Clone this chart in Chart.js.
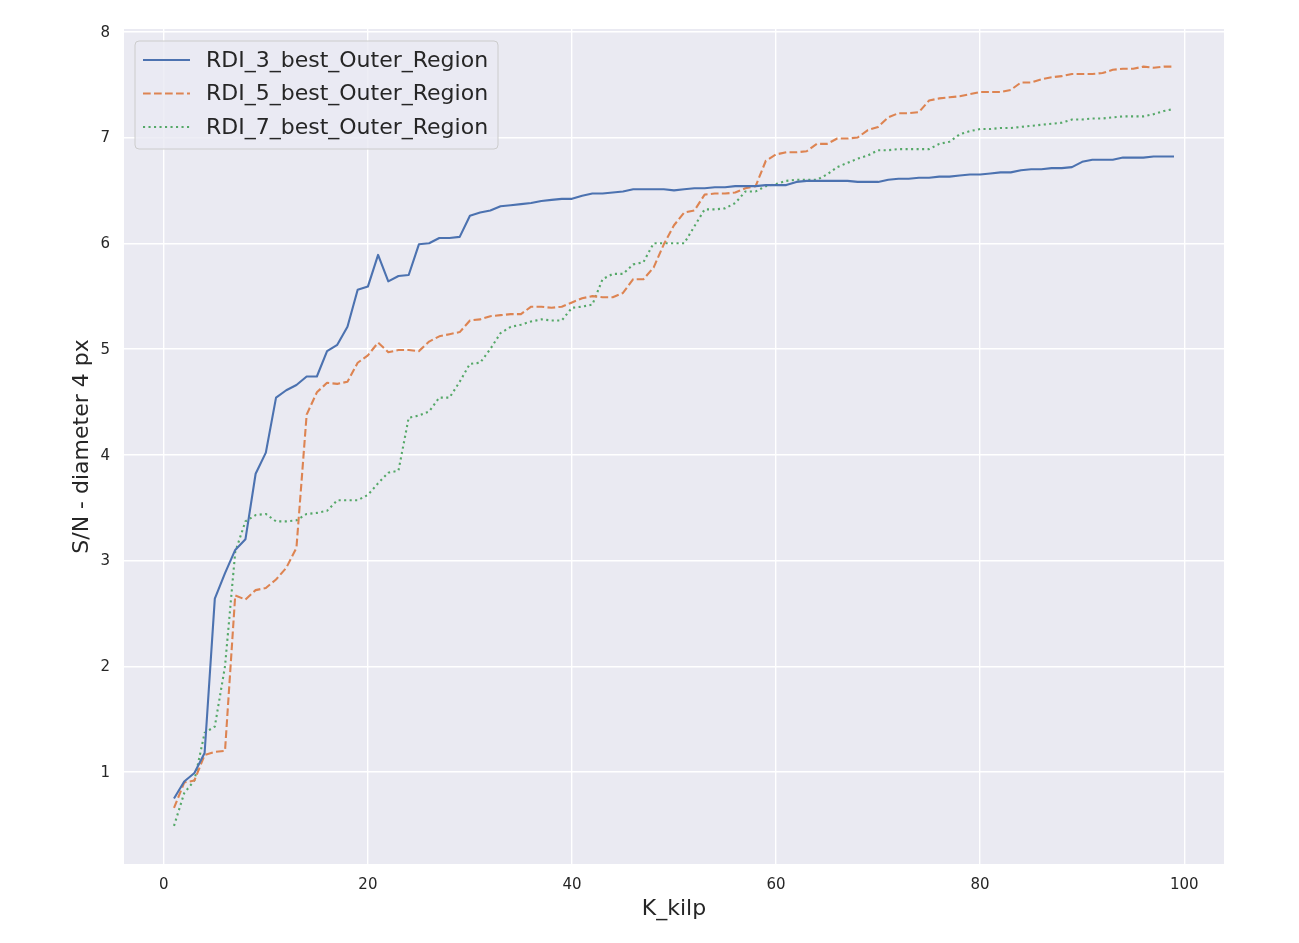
<!DOCTYPE html>
<html>
<head>
<meta charset="utf-8">
<script src="https://cdn.jsdelivr.net/npm/chart.js@4.4.1/dist/chart.umd.min.js"></script>
<style>
  html, body { margin: 0; padding: 0; background: #ffffff; }
  #wrap { width: 1299px; height: 943px; position: relative; }
</style>
</head>
<body>
<div id="wrap"><canvas id="myChart"></canvas></div>
<script>
// K_kilp values on the x axis
const kValues = [];
for (let k = 1; k <= 99; k++) kValues.push(k);

const seriesNames = ["RDI_3_best_Outer_Region", "RDI_5_best_Outer_Region", "RDI_7_best_Outer_Region"];

const rdi3 = [
  0.75, 0.91, 0.99, 1.18, 2.64, 2.88, 3.10, 3.20, 3.82, 4.02,
  4.54, 4.61, 4.66, 4.74, 4.74, 4.98, 5.04, 5.21, 5.56, 5.59,
  5.89, 5.64, 5.69, 5.70, 5.99, 6.00, 6.05, 6.05, 6.06, 6.26,
  6.29, 6.31, 6.35, 6.36, 6.37, 6.38, 6.40, 6.41, 6.42, 6.42,
  6.45, 6.47, 6.47, 6.48, 6.49, 6.51, 6.51, 6.51, 6.51, 6.50,
  6.51, 6.52, 6.52, 6.53, 6.53, 6.54, 6.54, 6.54, 6.55, 6.55,
  6.55, 6.58, 6.59, 6.59, 6.59, 6.59, 6.59, 6.58, 6.58, 6.58,
  6.60, 6.61, 6.61, 6.62, 6.62, 6.63, 6.63, 6.64, 6.65, 6.65,
  6.66, 6.67, 6.67, 6.69, 6.70, 6.70, 6.71, 6.71, 6.72, 6.77,
  6.79, 6.79, 6.79, 6.81, 6.81, 6.81, 6.82, 6.82, 6.82
];
const rdi5 = [
  0.66, 0.90, 0.92, 1.16, 1.19, 1.20, 2.67, 2.63, 2.72, 2.74,
  2.82, 2.93, 3.12, 4.38, 4.59, 4.68, 4.67, 4.69, 4.87, 4.94,
  5.06, 4.97, 4.99, 4.99, 4.98, 5.07, 5.12, 5.14, 5.16, 5.27,
  5.28, 5.31, 5.32, 5.33, 5.33, 5.40, 5.40, 5.39, 5.40, 5.44,
  5.48, 5.50, 5.49, 5.49, 5.53, 5.66, 5.66, 5.77, 5.99, 6.17,
  6.29, 6.31, 6.46, 6.47, 6.47, 6.48, 6.52, 6.54, 6.78, 6.84,
  6.86, 6.86, 6.87, 6.94, 6.94, 6.99, 6.99, 7.00, 7.07, 7.10,
  7.19, 7.23, 7.23, 7.24, 7.35, 7.37, 7.38, 7.39, 7.41, 7.43,
  7.43, 7.43, 7.45, 7.52, 7.52, 7.55, 7.57, 7.58, 7.60, 7.60,
  7.60, 7.61, 7.64, 7.65, 7.65, 7.67, 7.66, 7.67, 7.67
];
const rdi7 = [
  0.49, 0.80, 0.92, 1.37, 1.43, 2.00, 3.08, 3.37, 3.43, 3.44,
  3.37, 3.37, 3.38, 3.44, 3.45, 3.47, 3.57, 3.57, 3.57, 3.62,
  3.73, 3.83, 3.85, 4.35, 4.37, 4.41, 4.54, 4.54, 4.69, 4.86,
  4.87, 5.00, 5.15, 5.21, 5.23, 5.26, 5.28, 5.27, 5.27, 5.39,
  5.40, 5.42, 5.66, 5.71, 5.71, 5.80, 5.82, 6.00, 6.00, 6.00,
  6.00, 6.16, 6.32, 6.32, 6.33, 6.38, 6.49, 6.49, 6.54, 6.56,
  6.59, 6.60, 6.60, 6.60, 6.65, 6.72, 6.76, 6.80, 6.83, 6.88,
  6.88, 6.89, 6.89, 6.89, 6.89, 6.94, 6.96, 7.03, 7.06, 7.08,
  7.08, 7.09, 7.09, 7.10, 7.11, 7.12, 7.13, 7.14, 7.17, 7.17,
  7.18, 7.18, 7.19, 7.20, 7.20, 7.20, 7.22, 7.25, 7.27
];

const xTicks = [0, 20, 40, 60, 80, 100];
const yTicks = [1, 2, 3, 4, 5, 6, 7, 8];

function toPoints(vals) {
  return kValues.map((k, i) => ({ x: k, y: vals[i] }));
}

const FONT = "'DejaVu Sans', sans-serif";
const TEXT = '#262626';

// seaborn style background: white figure, grey axes area
const bgPlugin = {
  id: 'bgPlugin',
  beforeDraw(chart) {
    const ctx = chart.ctx, a = chart.chartArea;
    ctx.save();
    ctx.fillStyle = '#ffffff';
    ctx.fillRect(0, 0, chart.width, chart.height);
    ctx.fillStyle = '#EAEAF2';
    ctx.fillRect(a.left, a.top, a.right - a.left, a.bottom - a.top);
    ctx.restore();
  }
};

// matplotlib-like legend box in the upper left corner
const boxLegend = {
  id: 'boxLegend',
  afterDraw(chart) {
    const ctx = chart.ctx, a = chart.chartArea;
    const x0 = a.left + 11, y0 = a.top + 12, w = 363, h = 108, r = 4;
    ctx.save();
    ctx.beginPath();
    ctx.moveTo(x0 + r, y0);
    ctx.arcTo(x0 + w, y0, x0 + w, y0 + h, r);
    ctx.arcTo(x0 + w, y0 + h, x0, y0 + h, r);
    ctx.arcTo(x0, y0 + h, x0, y0, r);
    ctx.arcTo(x0, y0, x0 + w, y0, r);
    ctx.closePath();
    ctx.fillStyle = 'rgba(234,234,242,0.8)';
    ctx.fill();
    ctx.lineWidth = 1;
    ctx.strokeStyle = '#cccccc';
    ctx.stroke();

    ctx.font = '22px ' + FONT;
    ctx.textBaseline = 'middle';
    ctx.fillStyle = TEXT;
    chart.data.datasets.forEach((ds, i) => {
      const yy = y0 + 19 + i * 33.5;
      ctx.beginPath();
      ctx.setLineDash(ds.borderDash || []);
      ctx.lineWidth = ds.borderWidth;
      ctx.strokeStyle = ds.borderColor;
      ctx.moveTo(x0 + 8, yy);
      ctx.lineTo(x0 + 55, yy);
      ctx.stroke();
      ctx.setLineDash([]);
      ctx.fillText(ds.label, x0 + 71, yy + 1);
    });
    ctx.restore();
  }
};

const config = {
  type: 'line',
  data: {
    datasets: [
      { label: seriesNames[0], data: toPoints(rdi3), borderColor: '#4C72B0', borderWidth: 2.1, borderDash: [] },
      { label: seriesNames[1], data: toPoints(rdi5), borderColor: '#DD8452', borderWidth: 2.1, borderDash: [7.7, 3.3] },
      { label: seriesNames[2], data: toPoints(rdi7), borderColor: '#55A868', borderWidth: 2.1, borderDash: [2.1, 3.4] }
    ]
  },
  options: {
    responsive: true,
    maintainAspectRatio: false,
    animation: false,
    layout: { padding: { left: 0, right: 75, top: 29, bottom: 0 } },
    elements: {
      point: { radius: 0 },
      line: { tension: 0, borderJoinStyle: 'round', fill: false }
    },
    plugins: {
      legend: { display: false },
      tooltip: { enabled: false }
    },
    scales: {
      x: {
        type: 'linear',
        min: -3.9,
        max: 103.9,
        afterFit(scale) { scale.height = 79; },
        afterBuildTicks(scale) { scale.ticks = xTicks.map(v => ({ value: v })); },
        grid: { color: '#ffffff', lineWidth: 1.4, drawTicks: false },
        border: { display: false },
        ticks: { padding: 12, color: TEXT, font: { family: FONT, size: 15 }, maxRotation: 0 },
        title: { display: true, text: 'K_kilp', color: TEXT, font: { family: FONT, size: 22 }, padding: { top: 0, bottom: 21 } }
      },
      y: {
        type: 'linear',
        min: 0.13,
        max: 8.026,
        afterFit(scale) { scale.width = 124; },
        afterBuildTicks(scale) { scale.ticks = yTicks.map(v => ({ value: v })); },
        grid: { color: '#ffffff', lineWidth: 1.4, drawTicks: false },
        border: { display: false },
        ticks: { padding: 14, labelOffset: 1, color: TEXT, font: { family: FONT, size: 15 } },
        title: { display: true, text: 'S/N - diameter 4 px', color: TEXT, font: { family: FONT, size: 22 }, padding: { top: 69, bottom: 0 } }
      }
    }
  },
  plugins: [bgPlugin, boxLegend]
};

const myChart = new Chart(document.getElementById('myChart'), config);
</script>
</body>
</html>
